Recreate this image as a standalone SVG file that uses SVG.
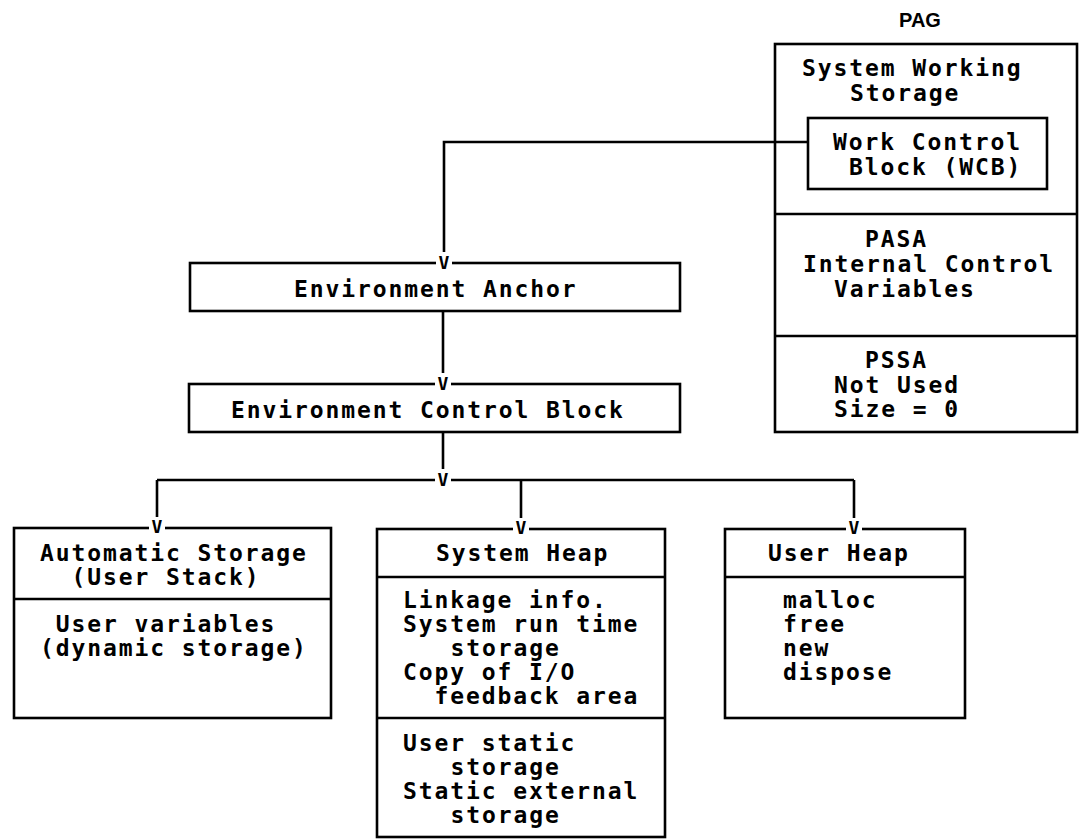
<svg xmlns="http://www.w3.org/2000/svg" width="1085" height="839" viewBox="0 0 1085 839">
<style>
  .box { fill: none; stroke: #000; stroke-width: 2.6; }
  .ln { fill: none; stroke: #000; stroke-width: 2.6; }
  .t { font-family: "DejaVu Sans Mono", "Liberation Mono", monospace; font-weight: bold; font-size: 23px; letter-spacing: 1.9px; fill: #000; }
  .v { font-family: "DejaVu Sans Mono", "Liberation Mono", monospace; font-weight: bold; font-size: 18px; text-anchor: middle; fill: #000; }
  .gap { fill: #fff; stroke: none; }
  .lbl { font-family: "Liberation Sans", Arial, sans-serif; font-weight: bold; font-size: 20px; text-anchor: middle; fill: #000; }
</style>
<rect x="0" y="0" width="1085" height="839" fill="#fff"/>

<g id="pag">
  <text class="lbl" x="920" y="27">PAG</text>
  <rect class="box" x="775" y="44" width="302" height="388"/>
  <line class="ln" x1="775" y1="214" x2="1077" y2="214"/>
  <line class="ln" x1="775" y1="336" x2="1077" y2="336"/>
  <text class="t" x="802" y="76">System Working</text>
  <text class="t" x="850" y="101">Storage</text>
  <text class="t" x="865" y="247">PASA</text>
  <text class="t" x="803" y="272">Internal Control</text>
  <text class="t" x="834" y="297">Variables</text>
  <text class="t" x="865" y="368">PSSA</text>
  <text class="t" x="834" y="393">Not Used</text>
  <text class="t" x="834" y="417">Size = 0</text>
</g>

<g id="wcb">
  <rect class="box" x="808" y="118" width="239" height="71"/>
  <text class="t" x="833" y="150">Work Control</text>
  <text class="t" x="849" y="175">Block (WCB)</text>
</g>

<g id="env-anchor">
  <rect class="box" x="190" y="263" width="490" height="48"/>
  <text class="t" x="294" y="297">Environment Anchor</text>
</g>

<g id="env-control-block">
  <rect class="box" x="189" y="384" width="491" height="48"/>
  <text class="t" x="231" y="418">Environment Control Block</text>
</g>

<g id="auto-storage">
  <rect class="box" x="14" y="528" width="317" height="190"/>
  <line class="ln" x1="14" y1="599" x2="331" y2="599"/>
  <text class="t" x="40" y="561">Automatic Storage</text>
  <text class="t" x="71.5" y="585">(User Stack)</text>
  <text class="t" x="55.75" y="632">User variables</text>
  <text class="t" x="40" y="656">(dynamic storage)</text>
</g>

<g id="system-heap">
  <rect class="box" x="377" y="529" width="288" height="308"/>
  <line class="ln" x1="377" y1="577" x2="665" y2="577"/>
  <line class="ln" x1="377" y1="718" x2="665" y2="718"/>
  <text class="t" x="436" y="561">System Heap</text>
  <text class="t" x="403" y="608">Linkage info.</text>
  <text class="t" x="403" y="632">System run time</text>
  <text class="t" x="450.5" y="656">storage</text>
  <text class="t" x="403" y="680">Copy of I/O</text>
  <text class="t" x="434.5" y="704">feedback area</text>
  <text class="t" x="403" y="751">User static</text>
  <text class="t" x="450.5" y="775">storage</text>
  <text class="t" x="403" y="799">Static external</text>
  <text class="t" x="450.5" y="823">storage</text>
</g>

<g id="user-heap">
  <rect class="box" x="725" y="529" width="240" height="189"/>
  <line class="ln" x1="725" y1="577" x2="965" y2="577"/>
  <text class="t" x="768" y="561">User Heap</text>
  <text class="t" x="783" y="608">malloc</text>
  <text class="t" x="783" y="632">free</text>
  <text class="t" x="783" y="656">new</text>
  <text class="t" x="783" y="680">dispose</text>
</g>

<g id="connectors">
  <polyline class="ln" points="808,142 444,142 444,252"/>
  <line class="ln" x1="443" y1="311" x2="443" y2="373"/>
  <line class="ln" x1="443" y1="432" x2="443" y2="469"/>
  <line class="ln" x1="157" y1="480" x2="854" y2="480"/>
  <line class="ln" x1="157" y1="480" x2="157" y2="517"/>
  <line class="ln" x1="521" y1="480" x2="521" y2="518"/>
  <line class="ln" x1="854" y1="480" x2="854" y2="518"/>

  <rect class="gap" x="436" y="259" width="16" height="8"/>
  <text class="v" x="444" y="269">V</text>
  <rect class="gap" x="435" y="380" width="16" height="8"/>
  <text class="v" x="443" y="390">V</text>
  <rect class="gap" x="435" y="476" width="16" height="8"/>
  <text class="v" x="443" y="486">V</text>
  <rect class="gap" x="149" y="524" width="16" height="8"/>
  <text class="v" x="157" y="533">V</text>
  <rect class="gap" x="513" y="525" width="16" height="8"/>
  <text class="v" x="521" y="534">V</text>
  <rect class="gap" x="846" y="525" width="16" height="8"/>
  <text class="v" x="854" y="534">V</text>
</g>
</svg>
